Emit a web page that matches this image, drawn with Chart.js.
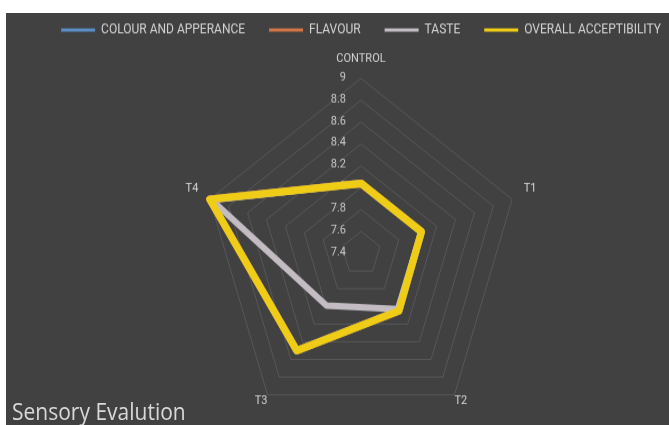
<!DOCTYPE html>
<html>
<head>
<meta charset="utf-8">
<script src="https://cdn.jsdelivr.net/npm/chart.js@4"></script>
<style>
  html, body { margin: 0; padding: 0; background: #fff; width: 669px; height: 425px; overflow: hidden; }
  #panel { position: absolute; left: 6px; top: 13px; width: 663px; height: 412px; background: #414141; overflow: hidden; }
  #stretch { position: absolute; left: 0; top: -16.25px; transform: scaleY(1.1); transform-origin: 0 0; }
  #title { position: absolute; left: 6px; top: 387px; font: 21px/21px "Open Sans", sans-serif; color: #d8d8d8; transform: scaleY(1.1); transform-origin: 0 0; white-space: nowrap; }
</style>
</head>
<body>
<div id="panel">
  <div id="stretch"><canvas id="chart" width="710" height="404"></canvas></div>
  <div id="title">Sensory Evalution</div>
</div>
<script>
/* sensory evaluation radar */
const CATEGORIES = ['CONTROL', 'T1', 'T2', 'T3', 'T4'];
const COLOUR_APPEARANCE = [8.04, 8.04, 8.05, 8.5, 9.0];
const FLAVOUR = [8.04, 8.04, 8.05, 8.5, 9.0];
const TASTE = [8.04, 8.04, 8.03, 7.99, 8.98];
const OVERALL = [8.04, 8.04, 8.05, 8.5, 9.0];
const TICKS = [7.4, 7.6, 7.8, 8.0, 8.2, 8.4, 8.6, 8.8, 9.0];

// gap between each category label and the outer ring
const LABEL_PAD = [12, 12, 0, 0, 12];
const LEGEND_HEIGHT = 38;

const textColor = '#d4d4d4';

// keeps the legend box short so the radar sits where it should
const legendSpacer = {
  id: 'legendSpacer',
  beforeInit(chart) {
    const fit = chart.legend.fit;
    chart.legend.fit = function () {
      fit.call(this);
      this.height = LEGEND_HEIGHT;
    };
  }
};

// value labels sit to the left of the CONTROL axis, under the lines
const tickLabels = {
  id: 'tickLabels',
  beforeDatasetsDraw(chart) {
    const r = chart.scales.r;
    const ctx = chart.ctx;
    ctx.save();
    ctx.font = '11px Roboto';
    ctx.fillStyle = '#c8c8c8';
    ctx.textAlign = 'right';
    ctx.textBaseline = 'middle';
    TICKS.forEach(v => {
      const p = r.getPointPositionForValue(0, v);
      ctx.fillText(String(v), p.x - 15, p.y - 1);
    });
    ctx.restore();
  }
};

const ctx = document.getElementById('chart').getContext('2d');
new Chart(ctx, {
  type: 'radar',
  data: {
    labels: CATEGORIES,
    datasets: [
      { label: 'COLOUR AND APPERANCE', data: COLOUR_APPEARANCE, borderColor: '#5b8cc4', borderWidth: 7, order: 3 },
      { label: 'FLAVOUR', data: FLAVOUR, borderColor: '#d27548', borderWidth: 7, order: 2 },
      { label: 'TASTE', data: TASTE, borderColor: '#c3bdc3', borderWidth: 6, order: 1 },
      { label: 'OVERALL ACCEPTIBILITY', data: OVERALL, borderColor: '#efcd16', borderWidth: 7, order: 0 }
    ]
  },
  options: {
    responsive: false,
    animation: false,
    layout: { padding: 0 },
    elements: {
      line: { fill: false, tension: 0, borderJoinStyle: 'round' },
      point: { radius: 0, hoverRadius: 0 }
    },
    scales: {
      r: {
        min: TICKS[0],
        max: TICKS[TICKS.length - 1],
        ticks: { stepSize: 0.2, display: false },
        grid: { color: 'rgba(255,255,255,0.12)', lineWidth: 1 },
        angleLines: { display: false },
        pointLabels: {
          color: textColor,
          font: { family: 'Roboto', size: 11, lineHeight: '12px' },
          padding: c => LABEL_PAD[c.index]
        }
      }
    },
    plugins: {
      tooltip: { enabled: false },
      legend: {
        position: 'top',
        labels: {
          boxWidth: 34,
          boxHeight: 3,
          padding: 24,
          color: textColor,
          font: { family: 'Roboto', size: 12 },
          generateLabels: chart => chart.data.datasets.map((ds, i) => ({
            text: ds.label,
            fillStyle: ds.borderColor,
            strokeStyle: ds.borderColor,
            lineWidth: 0,
            fontColor: textColor,
            hidden: false,
            datasetIndex: i
          }))
        }
      }
    }
  },
  plugins: [legendSpacer, tickLabels]
});
</script>
</body>
</html>
